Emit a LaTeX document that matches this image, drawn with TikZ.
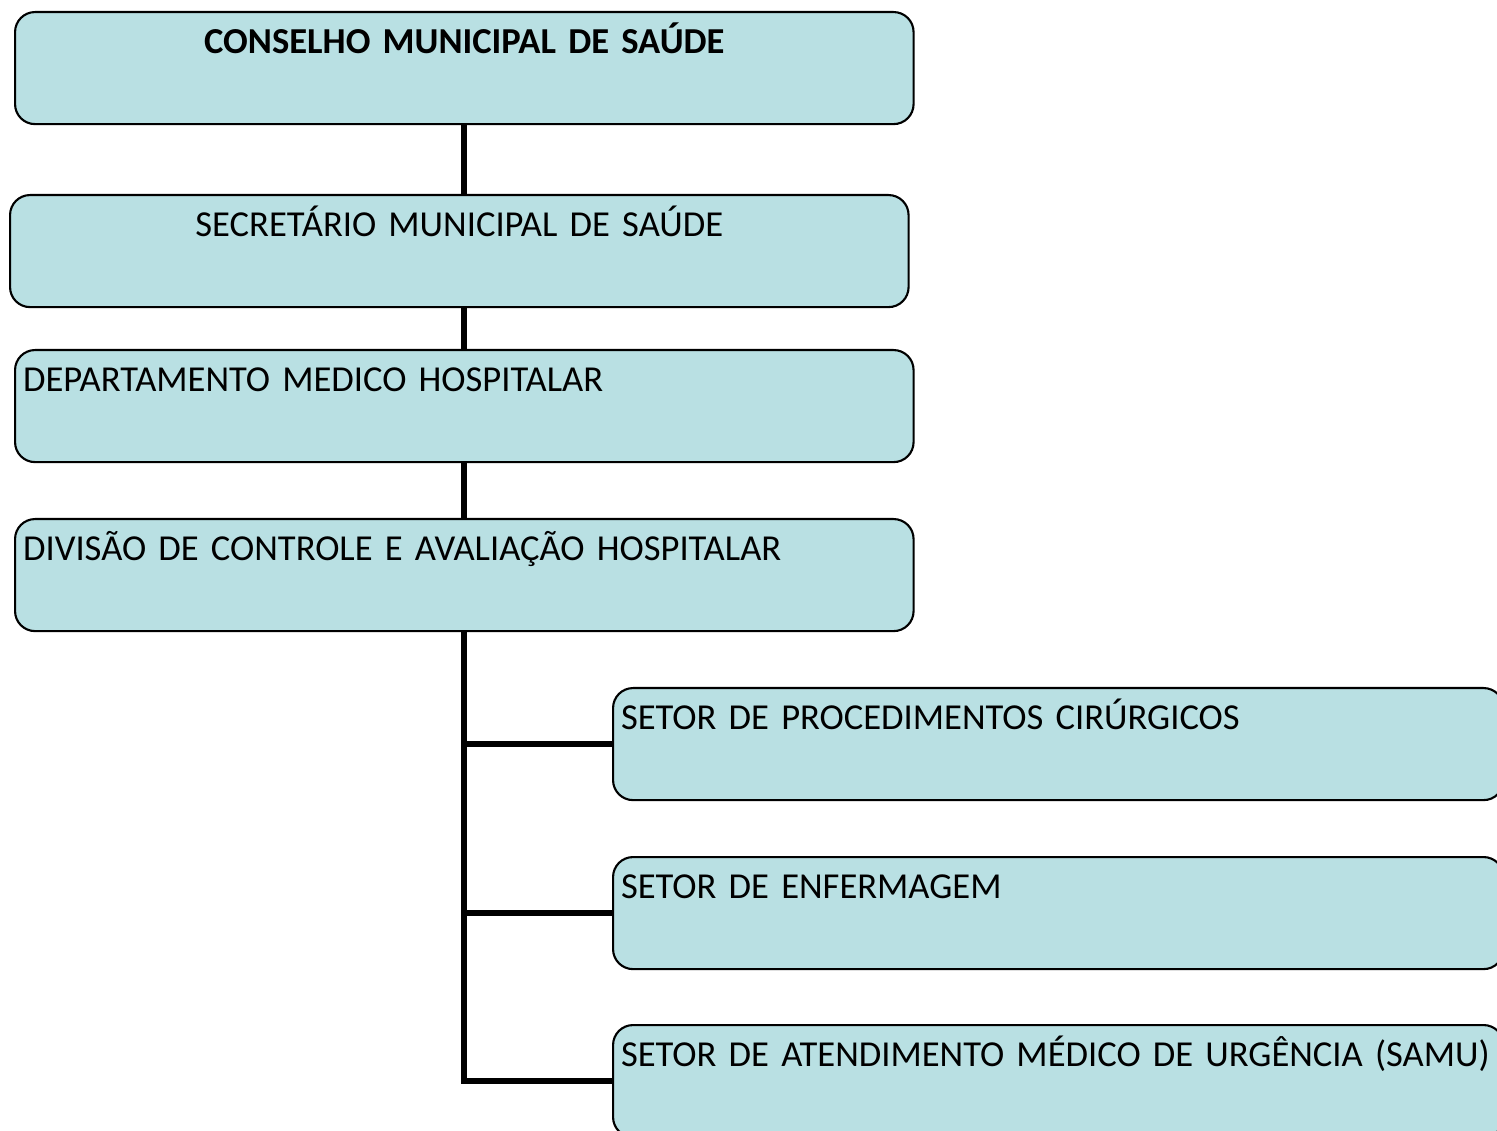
\documentclass[tikz,border=0pt]{standalone}
\usepackage{fontspec}
\setmainfont{Carlito}
\usepackage{xcolor}
\usepackage{tikz}
\usetikzlibrary{positioning}
\definecolor{boxfill}{HTML}{B9E0E3}
\definecolor{boxline}{HTML}{000000}
\newcommand{\orgfont}{\fontsize{10.4}{12.5}\selectfont}

\begin{document}
\begin{tikzpicture}[x=0.01cm,y=-0.01cm,
  orgbox/.style={draw=boxline,line width=0.6pt,fill=boxfill,rounded corners=0.2cm,
    anchor=north west,inner ysep=0pt,inner xsep=0.08cm,
    text height=0.41cm,text depth=0.71cm,font=\orgfont},
  wide/.style={orgbox,text width=8.82cm},
  side/.style={orgbox,text width=8.74cm,align=left},
  link/.style={line width=1.7pt,color=black}]
  \useasboundingbox (0,0) rectangle (1497,1131);
  \clip (0,0) rectangle (1497,1131);

  \node[wide,align=center,font=\orgfont\bfseries] (cms) at (14,11) {CONSELHO MUNICIPAL DE SAÚDE};
  \node[wide,align=center] (sms) at (9,194) {SECRETÁRIO MUNICIPAL DE SAÚDE};
  \node[wide,align=left] (dmh) at (14,349) {DEPARTAMENTO MEDICO HOSPITALAR};
  \node[wide,align=left] (dca) at (14,518) {DIVISÃO DE CONTROLE E AVALIAÇÃO HOSPITALAR};

  \node[side] (spc) at (612,687) {SETOR DE PROCEDIMENTOS CIRÚRGICOS};
  \node[side] (sef) at (612,856) {SETOR DE ENFERMAGEM};
  \node[side] (samu) at (612,1024) {SETOR DE ATENDIMENTO MÉDICO DE URGÊNCIA (SAMU)};

  \draw[link] (cms.south) -- (cms.south |- sms.north);
  \draw[link] (cms.south |- sms.south) -- (cms.south |- dmh.north);
  \draw[link] (dmh.south) -- (dca.north);
  \draw[link] (dca.south) |- (samu.west);
  \draw[link] (dca.south |- spc.west) -- (spc.west);
  \draw[link] (dca.south |- sef.west) -- (sef.west);
\end{tikzpicture}
\end{document}
